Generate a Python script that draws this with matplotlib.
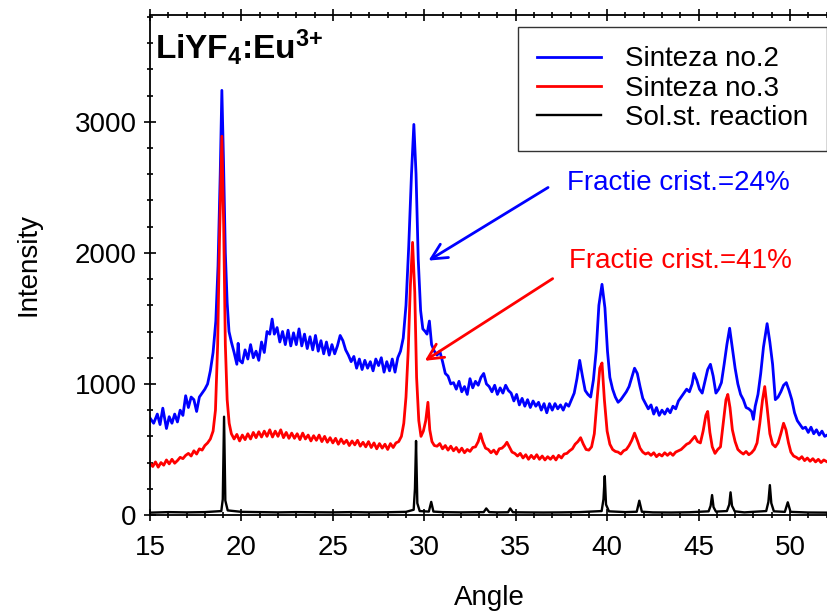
import matplotlib
matplotlib.use('Agg')
import matplotlib.pyplot as plt
from matplotlib.ticker import MultipleLocator

plt.rcParams['font.family'] = ['Liberation Sans', 'DejaVu Sans']
plt.rcParams['mathtext.fontset'] = 'custom'
plt.rcParams['mathtext.rm'] = 'Liberation Sans'
plt.rcParams['mathtext.bf'] = 'Liberation Sans:bold'
plt.rcParams['mathtext.default'] = 'bf'

# Sinteza no.2 (blue)
blue_angle = [15.0, 15.2, 15.4, 15.55, 15.7, 15.9, 16.05, 16.2, 16.35, 16.5, 16.65, 16.8, 16.95, 17.1, 17.25,
              17.4, 17.55, 17.7, 17.85, 18.0, 18.15, 18.3, 18.45, 18.6, 18.72, 18.84, 18.93, 19.02, 19.12, 19.22,
              19.32, 19.45, 19.6, 19.75, 19.82, 19.9, 20.05, 20.2, 20.35, 20.5, 20.65, 20.8, 20.95, 21.1, 21.25,
              21.4, 21.55, 21.68, 21.8, 21.95, 22.1, 22.25, 22.4, 22.55, 22.7, 22.85, 23.0, 23.15, 23.3, 23.45,
              23.6, 23.75, 23.9, 24.05, 24.2, 24.35, 24.5, 24.65, 24.8, 24.95, 25.1, 25.25, 25.4, 25.55, 25.7,
              25.85, 26.0, 26.15, 26.3, 26.45, 26.6, 26.75, 26.9, 27.05, 27.2, 27.35, 27.5, 27.65, 27.8, 27.95,
              28.1, 28.25, 28.4, 28.55, 28.7, 28.85, 29.0, 29.15, 29.3, 29.43, 29.55, 29.67, 29.8, 29.92, 30.05,
              30.15, 30.28, 30.4, 30.55, 30.7, 30.85, 31.0, 31.15, 31.3, 31.45, 31.6, 31.75, 31.9, 32.05, 32.2,
              32.35, 32.5, 32.65, 32.8, 32.95, 33.1, 33.25, 33.4, 33.55, 33.7, 33.85, 34.0, 34.15, 34.3, 34.45,
              34.6, 34.75, 34.9, 35.05, 35.2, 35.35, 35.5, 35.65, 35.8, 35.95, 36.1, 36.25, 36.4, 36.55, 36.7,
              36.85, 37.0, 37.15, 37.3, 37.45, 37.6, 37.75, 37.9, 38.05, 38.2, 38.35, 38.5, 38.65, 38.8, 38.95,
              39.1, 39.25, 39.4, 39.55, 39.72, 39.88, 40.02, 40.15, 40.3, 40.45, 40.6, 40.75, 40.9, 41.05, 41.2,
              41.35, 41.5, 41.65, 41.8, 41.95, 42.1, 42.25, 42.4, 42.55, 42.7, 42.85, 43.0, 43.15, 43.3, 43.45,
              43.6, 43.75, 43.9, 44.05, 44.2, 44.35, 44.5, 44.65, 44.75, 44.9, 45.05, 45.2, 45.35, 45.5, 45.65,
              45.8, 45.95, 46.1, 46.25, 46.4, 46.55, 46.7, 46.85, 47.0, 47.15, 47.3, 47.45, 47.6, 47.75, 47.9,
              48.0, 48.1, 48.25, 48.4, 48.55, 48.75, 48.9, 49.05, 49.2, 49.35, 49.5, 49.65, 49.8, 49.95, 50.1,
              50.25, 50.4, 50.55, 50.7, 50.85, 51.0, 51.15, 51.3, 51.45, 51.6, 51.75, 51.9, 52.1]
blue_int = [740, 700, 770, 690, 815, 660, 750, 700, 770, 710, 800, 760, 910, 820, 900,
            880, 790, 900, 930, 960, 1000, 1100, 1240, 1480, 1900, 2600, 3240, 2700, 2000, 1620,
            1400, 1320, 1240, 1150, 1310, 1180, 1160, 1260, 1190, 1300, 1200, 1250, 1180, 1320, 1240,
            1400, 1380, 1495, 1380, 1430, 1320, 1400, 1300, 1410, 1290, 1390, 1300, 1420, 1290, 1380,
            1270, 1360, 1260, 1370, 1250, 1330, 1230, 1320, 1220, 1300, 1230, 1290, 1370, 1330, 1260,
            1220, 1170, 1210, 1120, 1190, 1110, 1180, 1120, 1170, 1100, 1190, 1140, 1200, 1090, 1170,
            1100, 1190, 1090, 1200, 1250, 1350, 1600, 2050, 2600, 2980, 2600, 1950, 1560, 1420, 1400,
            1380, 1480, 1300, 1250, 1220, 1250, 1170, 1080, 1060, 1000, 1010, 960, 1020, 940, 980,
            920, 1040, 970, 1020, 990, 1050, 1080, 1000, 980, 940, 990, 920, 970, 930, 990,
            950, 930, 870, 920, 840, 890, 830, 880, 820, 870, 830, 860, 800, 850, 780,
            850, 800, 850, 810, 840, 800, 850, 830, 880, 930, 1040, 1180, 1060, 950, 920,
            900, 1030, 1250, 1600, 1760, 1580, 1250, 1050, 960, 900, 860, 880, 910, 940, 980,
            1050, 1120, 1080, 980, 890, 850, 810, 840, 770, 820, 760, 800, 770, 810, 780,
            830, 810, 870, 900, 930, 960, 940, 1000, 1080, 1030, 960, 930, 1020, 1110, 1150,
            1060, 930, 960, 1010, 1150, 1300, 1425, 1270, 1120, 1000, 920, 880, 820, 810, 790,
            730, 830, 920, 1080, 1280, 1460, 1320, 1150, 880, 900, 940, 990, 1010, 950, 880,
            780, 720, 690, 660, 670, 630, 670, 620, 650, 610, 640, 600, 615]

# Sinteza no.3 (red)
red_angle = [15.0, 15.15, 15.3, 15.45, 15.6, 15.75, 15.9, 16.05, 16.2, 16.35, 16.5, 16.65, 16.8, 16.95, 17.1,
             17.25, 17.4, 17.55, 17.7, 17.85, 18.0, 18.15, 18.3, 18.45, 18.58, 18.7, 18.8, 18.93, 19.03, 19.12,
             19.22, 19.33, 19.45, 19.6, 19.75, 19.9, 20.05, 20.2, 20.35, 20.5, 20.65, 20.8, 20.95, 21.1, 21.25,
             21.4, 21.55, 21.7, 21.85, 22.0, 22.15, 22.3, 22.45, 22.6, 22.75, 22.9, 23.05, 23.2, 23.35, 23.5,
             23.65, 23.8, 23.95, 24.1, 24.25, 24.4, 24.55, 24.7, 24.85, 25.0, 25.15, 25.3, 25.45, 25.6, 25.75,
             25.9, 26.05, 26.2, 26.35, 26.5, 26.65, 26.8, 26.95, 27.1, 27.25, 27.4, 27.55, 27.7, 27.85, 28.0,
             28.15, 28.3, 28.45, 28.6, 28.75, 28.88, 29.0, 29.12, 29.24, 29.36, 29.48, 29.58, 29.7, 29.82, 29.95,
             30.08, 30.2, 30.3, 30.42, 30.55, 30.7, 30.85, 31.0, 31.15, 31.3, 31.45, 31.6, 31.75, 31.9, 32.05,
             32.2, 32.35, 32.5, 32.65, 32.8, 32.95, 33.08, 33.2, 33.35, 33.5, 33.65, 33.8, 33.95, 34.1, 34.25,
             34.4, 34.52, 34.65, 34.8, 34.95, 35.1, 35.25, 35.4, 35.55, 35.7, 35.85, 36.0, 36.15, 36.3, 36.45,
             36.6, 36.75, 36.9, 37.05, 37.2, 37.35, 37.5, 37.65, 37.8, 37.95, 38.1, 38.25, 38.4, 38.55, 38.7,
             38.85, 39.0, 39.15, 39.3, 39.45, 39.6, 39.72, 39.85, 40.0, 40.15, 40.3, 40.45, 40.6, 40.75, 40.9,
             41.05, 41.2, 41.35, 41.5, 41.65, 41.8, 41.95, 42.1, 42.25, 42.4, 42.55, 42.7, 42.85, 43.0, 43.15,
             43.3, 43.45, 43.6, 43.75, 43.9, 44.05, 44.2, 44.35, 44.5, 44.65, 44.8, 44.95, 45.1, 45.25, 45.4,
             45.5, 45.62, 45.75, 45.9, 46.05, 46.2, 46.35, 46.5, 46.6, 46.72, 46.85, 47.0, 47.15, 47.3, 47.45,
             47.6, 47.75, 47.9, 48.05, 48.2, 48.35, 48.5, 48.62, 48.75, 48.9, 49.05, 49.2, 49.35, 49.5, 49.65,
             49.78, 49.92, 50.05, 50.2, 50.35, 50.5, 50.65, 50.8, 50.95, 51.1, 51.25, 51.4, 51.55, 51.7, 51.85,
             52.1]
red_int = [395, 370, 405, 365, 400, 380, 420, 390, 425, 395, 415, 440, 430, 455, 470,
           450, 490, 465, 505, 495, 530, 550, 580, 640, 800, 1300, 2100, 2890, 2200, 1300,
           880, 700, 620, 580, 615, 565, 610, 575, 620, 580, 630, 590, 635, 595, 640,
           600, 650, 595, 640, 600, 650, 590, 630, 585, 625, 585, 620, 575, 625, 580,
           610, 565, 605, 570, 610, 560, 600, 555, 590, 550, 585, 540, 580, 545, 570,
           530, 565, 535, 570, 525, 555, 520, 560, 515, 550, 505, 545, 510, 540, 500,
           545, 515, 550, 560, 600, 700, 900, 1250, 1750, 2080, 1700, 1050, 720, 600, 640,
           720, 860, 650, 560, 530, 525, 545, 505, 530, 495, 525, 490, 515, 480, 510,
           475, 500, 485, 515, 520, 560, 620, 560, 510, 500, 475, 495, 465, 505, 510,
           530, 555, 520, 480, 470, 450, 470, 435, 460, 425, 455, 430, 460, 425, 450,
           420, 445, 425, 450, 420, 455, 435, 465, 470, 490, 505, 540, 560, 590, 540,
           500, 495, 520, 620, 880, 1120, 1160, 880, 640, 540, 500, 485, 480, 465, 490,
           500, 530, 570, 625, 570, 510, 480, 465, 475, 455, 475, 445, 465, 450, 475,
           455, 475, 455, 480, 490, 500, 520, 540, 550, 575, 600, 560, 550, 640, 760,
           790, 630, 520, 470, 500, 520, 700, 880, 920, 820, 650, 560, 500, 480, 465,
           485, 460, 475, 500, 550, 700, 880, 980, 820, 620, 540, 520, 550, 620, 700,
           650, 550, 480, 450, 440, 425, 445, 415, 435, 410, 430, 405, 425, 400, 420,
           400]

# Sol.st. reaction (black)
black_angle = [15.0, 16.0, 17.0, 18.0, 18.9, 18.98, 19.05, 19.12, 19.25, 20.0, 21.0, 22.0, 23.0, 24.0,
               25.0, 26.0, 27.0, 28.0, 29.0, 29.42, 29.49, 29.55, 29.62, 29.75, 30.25, 30.38, 30.5,
               31.0, 32.0, 33.25, 33.39, 33.55, 34.0, 34.58, 34.7, 34.85, 35.5, 36.5, 37.5, 38.5,
               39.7, 39.8, 39.87, 39.94, 40.1, 41.0, 41.62, 41.76, 41.9, 42.5, 43.5, 44.5, 45.55,
               45.66, 45.74, 45.82, 45.95, 46.55, 46.68, 46.75, 46.83, 46.98, 47.5, 48.7, 48.82,
               48.9, 48.98, 49.12, 49.72, 49.88, 50.03, 51.0, 52.1]
black_int = [18, 22, 20, 22, 30, 120, 750, 110, 35, 24, 22, 20, 22, 21,
             20, 22, 20, 21, 24, 40, 200, 565, 90, 30, 26, 100, 26,
             22, 20, 22, 50, 22, 20, 21, 50, 21, 20, 19, 20, 22,
             30, 120, 297, 80, 28, 22, 25, 109, 25, 20, 19, 21, 28,
             70, 152, 60, 26, 30, 80, 173, 70, 28, 20, 30, 100,
             228, 90, 28, 24, 97, 24, 19, 18]

fig = plt.figure(figsize=(8.28, 6.12), dpi=100)
ax = fig.add_axes([150/828, 1 - 515/612, 678/828, 500/612])

ax.plot(blue_angle, blue_int, color='blue', lw=2.0, label='Sinteza no.2')
ax.plot(red_angle, red_int, color='red', lw=2.0, label='Sinteza no.3')
ax.plot(black_angle, black_int, color='black', lw=1.7, label='Sol.st. reaction')

ax.set_xlim(15, 52.08)
ax.set_ylim(0, 3815)
ax.xaxis.set_major_locator(MultipleLocator(5))
ax.xaxis.set_minor_locator(MultipleLocator(1))
ax.yaxis.set_major_locator(MultipleLocator(1000))
ax.yaxis.set_minor_locator(MultipleLocator(200))
ax.tick_params(which='both', direction='inout', top=True, right=False, labelsize=20, width=1.2)
ax.tick_params(which='major', length=9, pad=5)
ax.tick_params(which='minor', length=5)
ax.tick_params(axis='x', which='major', pad=10)
ax.spines['right'].set_visible(False)
for s in ['left', 'top', 'bottom']:
    ax.spines[s].set_linewidth(1.3)

ax.set_xlabel('Angle', fontsize=20, labelpad=17)
ax.set_ylabel('Intensity', fontsize=20, labelpad=24)

ax.text(0.007, 0.912, 'LiYF$_4$:Eu$^{3{+}}$', transform=ax.transAxes,
        fontsize=24, fontweight='bold', va='baseline', ha='left')

ax.annotate('', xy=(30.1, 1930), xytext=(36.9, 2510),
            arrowprops=dict(arrowstyle='->', color='blue', lw=2, mutation_scale=28))
ax.text(37.8, 2530, 'Fractie crist.=24%', color='blue', fontsize=20, va='center', ha='left')
ax.annotate('', xy=(29.9, 1165), xytext=(37.15, 1815),
            arrowprops=dict(arrowstyle='->', color='red', lw=2, mutation_scale=28))
ax.text(37.9, 1935, 'Fractie crist.=41%', color='red', fontsize=20, va='center', ha='left')

leg = ax.legend(loc='upper right', bbox_to_anchor=(0.999, 0.976), borderaxespad=0,
                fontsize=20, frameon=True, fancybox=False, edgecolor='black',
                handlelength=2.3, handletextpad=0.85, labelspacing=0.12, borderpad=0.7)
leg.get_frame().set_linewidth(1.0)

fig.savefig('out.png', dpi=100)
